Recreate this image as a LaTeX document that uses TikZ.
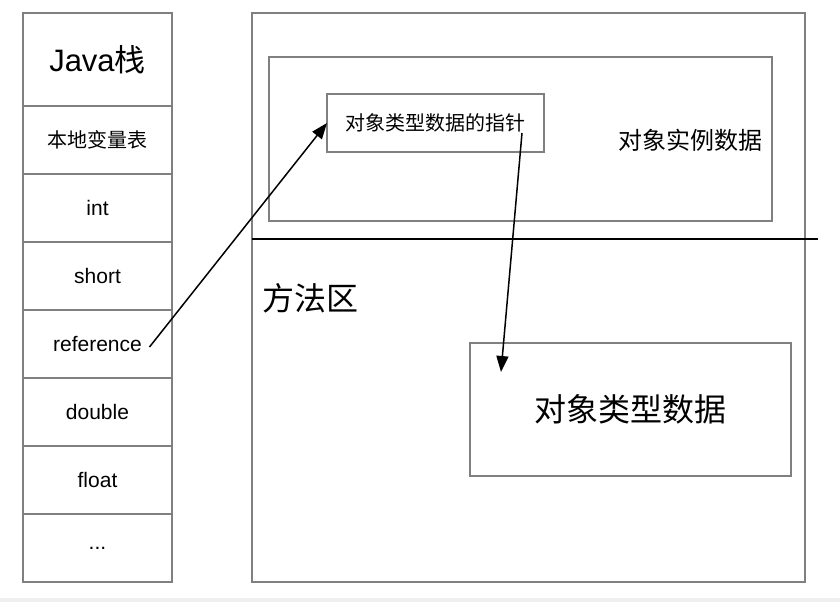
\documentclass[tikz,border=0pt]{standalone}
\usepackage{fontspec}
\setmainfont{Liberation Sans}
\newfontfamily\cjk{Noto Sans CJK SC}
\usetikzlibrary{arrows.meta}
\definecolor{boxgray}{RGB}{128,128,128}

\begin{document}
\begin{tikzpicture}[x=1pt,y=-1pt,inner sep=0pt,outer sep=0pt,
  cell/.style={rectangle,draw=boxgray,line width=2pt,minimum width=149pt,minimum height=68pt,font=\fontsize{21}{24}\selectfont},
  area/.style={rectangle,draw=boxgray,line width=2pt},
  ptr/.style={-{Triangle[length=16pt,width=12pt]},line width=1.5pt}]
\useasboundingbox (0,0) rectangle (840,602);
\fill[black!6] (0,598) rectangle (840,602);
\node at (97.5,59.5) [cell,minimum height=93pt,font=\fontsize{31}{36}\selectfont] (Stack1) {Java{\cjk 栈}};
\node at (97.5,140) [cell,font=\cjk\fontsize{20}{24}\selectfont] (Stack2) {本地变量表};
\node at (97.5,208) [cell] (Stack3) {int};
\node at (97.5,276) [cell] (Stack4) {short};
\node at (97.5,344) [cell] (Stack5) {reference};
\node at (97.5,412) [cell] (Stack6) {double};
\node at (97.5,480) [cell] (Stack7) {float};
\node at (97.5,548) [cell] (Stack8) {\raisebox{-3pt}{...}};
\node at (528.5,297.5) [area,minimum width=553pt,minimum height=569pt] (Heap) {};
\node at (520.5,139) [area,minimum width=503pt,minimum height=164pt] (Instance) {};
\node at (435.5,123) [area,minimum width=217pt,minimum height=58pt,font=\cjk\fontsize{20}{24}\selectfont] (Pointer) {对象类型数据的指针};
\node at (690,140) [font=\cjk\fontsize{24}{28}\selectfont] (InstText) {对象实例数据};
\draw[line width=2pt] (252,239) -- (818,239);
\node at (310,298) [font=\cjk\fontsize{32}{36}\selectfont] (MethodText) {方法区};
\node at (630.5,409.5) [area,minimum width=321pt,minimum height=133pt,font=\cjk\fontsize{32}{36}\selectfont] (Type) {对象类型数据};
\coordinate (RefTail) at ([xshift=52pt,yshift=-3pt]Stack5.center);
\coordinate (PtrTail) at ([xshift=86.5pt,yshift=-10pt]Pointer.center);
\coordinate (TypeTip) at ([xshift=-129.5pt,yshift=37.5pt]Type.center);
\draw[ptr] (RefTail) -- (Pointer.west);
\draw[ptr] (PtrTail) -- (TypeTip);
\end{tikzpicture}
\end{document}
